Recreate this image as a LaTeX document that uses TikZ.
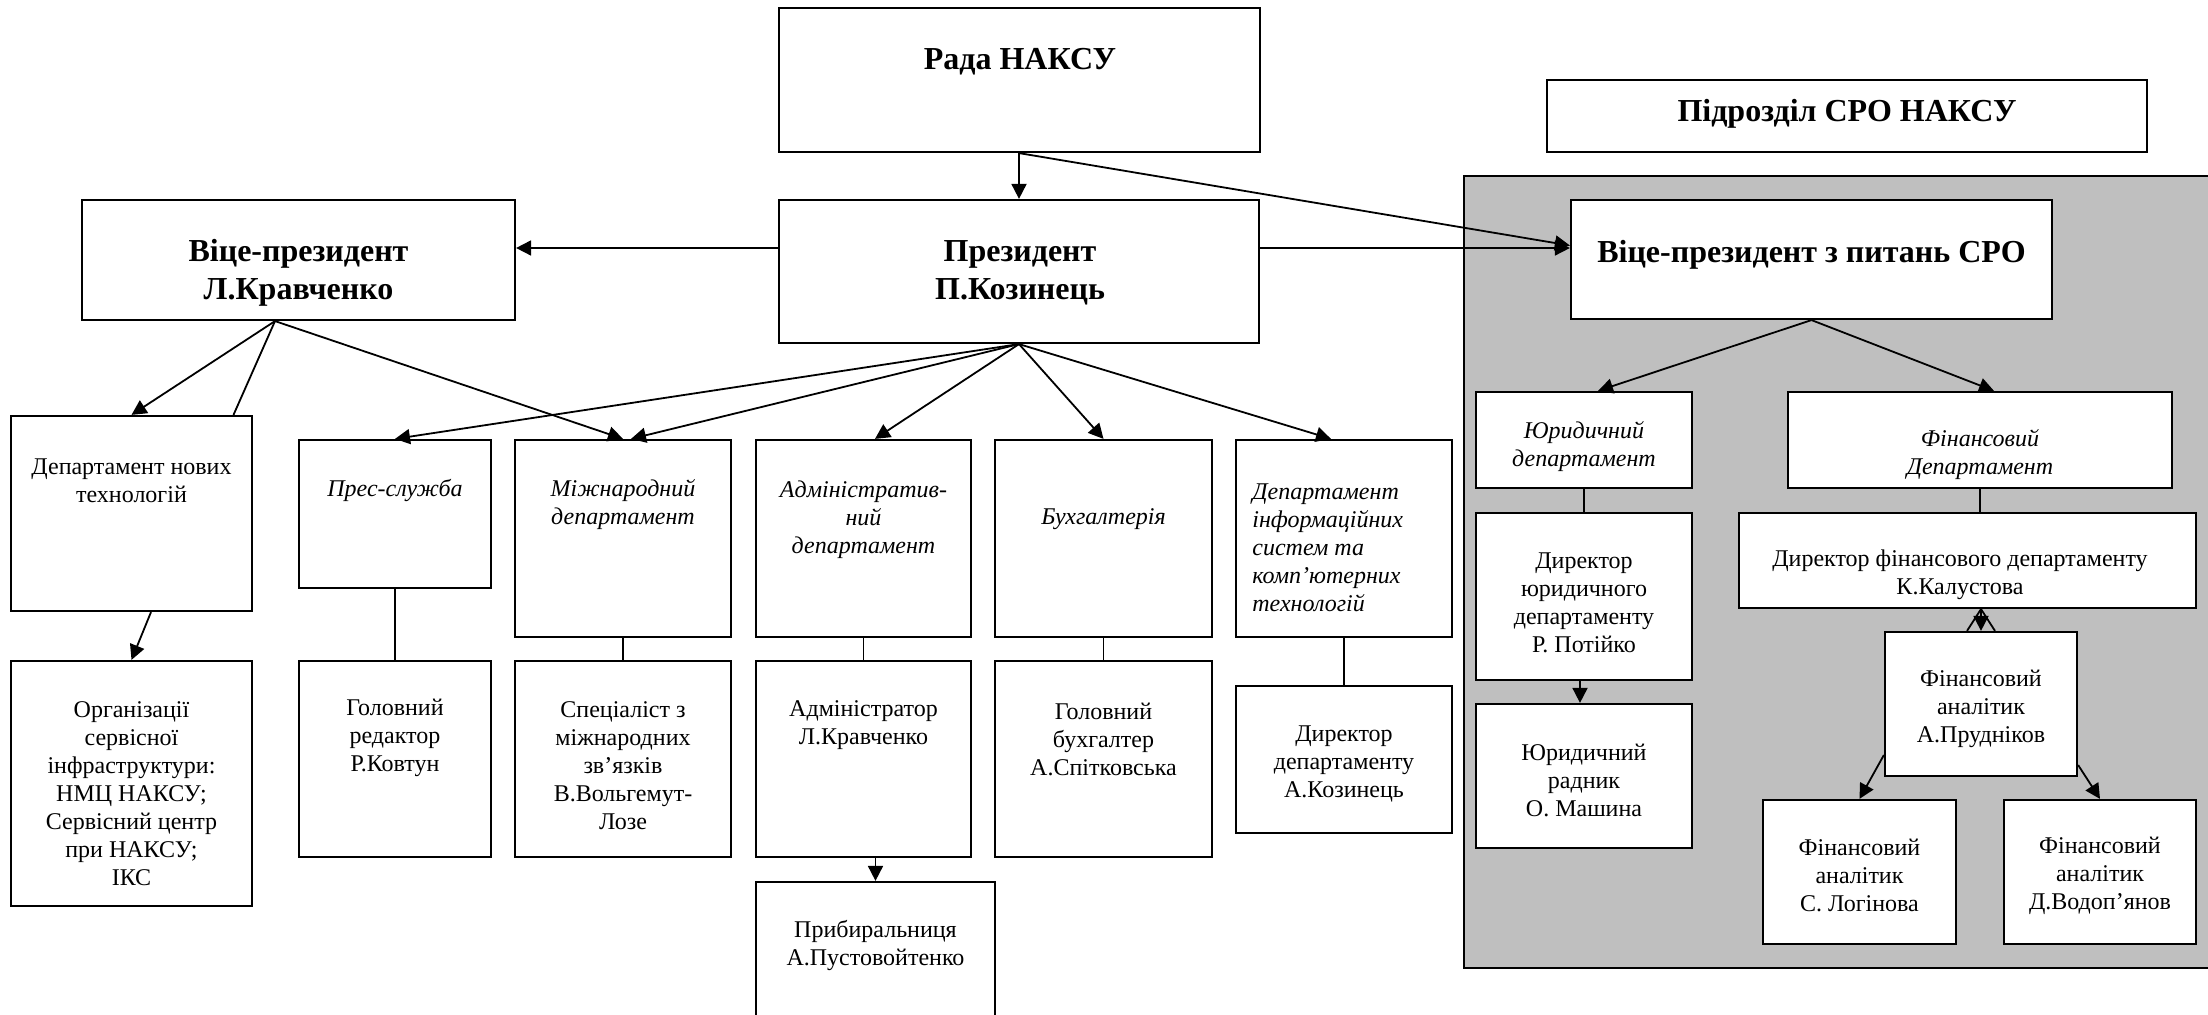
\documentclass[tikz,border=0pt]{standalone}
\usepackage{fontspec}
\setmainfont{Liberation Serif}
\usetikzlibrary{arrows.meta}

\tikzset{
  unit/.style={draw, line width=1.1pt, fill=white, inner sep=0pt},
  txt/.style={align=center, inner sep=0pt, font=\fontsize{12}{14}\selectfont},
  dept/.style={txt, font=\fontsize{12}{14}\selectfont\itshape},
  head/.style={align=center, inner sep=0pt, font=\fontsize{16}{19}\selectfont\bfseries},
  arr/.style={line width=0.9pt, -{Triangle[length=7.5pt,width=7.5pt]}},
  link/.style={line width=0.9pt},
}

\begin{document}
\begin{tikzpicture}[x=0.5pt,y=-0.5pt]
\useasboundingbox (0,0) rectangle (2208,1015);

% grey part of the SRO unit
\draw[line width=1.1pt, fill=black!25] (1464,176) rectangle (2240,968);

% top
\node[unit, minimum width=240.5pt, minimum height=72pt] (rada) at (1019.5,80) {};
\node[head] (rada-t) at (1020,62) {Рада НАКСУ};
\node[unit, minimum width=300pt, minimum height=36pt] (sro) at (1847,116) {};
\node[head] (sro-t) at (1847,114) {Підрозділ СРО НАКСУ};

\node[unit, minimum width=216.5pt, minimum height=60pt] (vpk) at (298.5,260) {};
\node[head] (vpk-t) at (298.5,273) {Віце-президент\\Л.Кравченко};
\node[unit, minimum width=240pt, minimum height=71.5pt] (pres) at (1019,271.5) {};
\node[head] (pres-t) at (1020,273) {Президент\\П.Козинець};
\node[unit, minimum width=240.5pt, minimum height=59.5pt] (vps) at (1811.5,259.5) {};
\node[head] (vps-t) at (1811.5,255) {Віце-президент з питань СРО};

% departments
\node[unit, minimum width=120.5pt, minimum height=97.5pt] (dnt) at (131.5,513.5) {};
\node[txt] (dnt-t) at (131.5,481) {Департамент нових\\технологій};
\node[unit, minimum width=96pt, minimum height=74pt] (press) at (395,514) {};
\node[dept] (press-t) at (395,491) {Прес-служба};
\node[unit, minimum width=108pt, minimum height=98.5pt] (intl) at (623,538.5) {};
\node[dept] (intl-t) at (623,505) {Міжнародний\\департамент};
\node[unit, minimum width=107.5pt, minimum height=98.5pt] (adm) at (863.5,538.5) {};
\node[dept] (adm-t) at (863.5,519.5) {Адміністратив-\\ний\\департамент};
\node[unit, minimum width=108.5pt, minimum height=98.5pt] (buh) at (1103.5,538.5) {};
\node[dept] (buh-t) at (1103.5,519) {Бухгалтерія};
\node[unit, minimum width=108pt, minimum height=98.5pt] (info) at (1344,538.5) {};
\node[dept, align=left, anchor=west] (info-t) at (1252,547.5) {Департамент\\інформаційних\\систем та\\комп’ютерних\\технологій};

% staff
\node[unit, minimum width=120.5pt, minimum height=122.5pt] (orgs) at (131.5,783.5) {};
\node[txt] (orgs-t) at (131.5,794) {Організації\\сервісної\\інфраструктури:\\НМЦ НАКСУ;\\Сервісний центр\\при НАКСУ;\\ІКС};
\node[unit, minimum width=96pt, minimum height=98pt] (editor) at (395,759) {};
\node[txt] (editor-t) at (395,738) {Головний\\редактор\\Р.Ковтун};
\node[unit, minimum width=108pt, minimum height=98pt] (spec) at (623,759) {};
\node[txt] (spec-t) at (623,766) {Спеціаліст з\\міжнародних\\зв’язків\\В.Вольгемут-\\Лозе};
\node[unit, minimum width=107.5pt, minimum height=98pt] (admr) at (863.5,759) {};
\node[txt] (admr-t) at (863.5,725) {Адміністратор\\Л.Кравченко};
\node[unit, minimum width=108.5pt, minimum height=98pt] (chacc) at (1103.5,759) {};
\node[txt] (chacc-t) at (1103.5,739) {Головний\\бухгалтер\\А.Спітковська};
\node[unit, minimum width=108pt, minimum height=73.5pt] (dirinfo) at (1344,759.5) {};
\node[txt] (dirinfo-t) at (1344,763.5) {Директор\\департаменту\\А.Козинець};
\node[unit, minimum width=119.5pt, minimum height=74pt] (clean) at (875.5,956) {};
\node[txt] (clean-t) at (875.5,945) {Прибиральниця\\А.Пустовойтенко};

% SRO unit
\node[unit, minimum width=108pt, minimum height=48pt] (legal) at (1584,440) {};
\node[dept] (legal-t) at (1584,446.5) {Юридичний\\департамент};
\node[unit, minimum width=192pt, minimum height=48pt] (fin) at (1980,440) {};
\node[dept] (fin-t) at (1980,455) {Фінансовий\\Департамент};
\node[unit, minimum width=108pt, minimum height=83.5pt] (dirlegal) at (1584,596.5) {};
\node[txt] (dirlegal-t) at (1584,603) {Директор\\юридичного\\департаменту\\Р. Потійко};
\node[unit, minimum width=228.5pt, minimum height=47.5pt] (dirfin) at (1967.5,560.5) {};
\node[txt] (dirfin-t) at (1960,575) {Директор фінансового департаменту\\К.Калустова};
\node[unit, minimum width=108pt, minimum height=72pt] (adviser) at (1584,776) {};
\node[txt] (adviser-t) at (1584,780) {Юридичний\\радник\\О. Машина};
\node[unit, minimum width=96pt, minimum height=72pt] (prud) at (1981,704) {};
\node[txt] (prud-t) at (1981,709) {Фінансовий\\аналітик\\А.Прудніков};
\node[unit, minimum width=96.5pt, minimum height=72pt] (login) at (1859.5,872) {};
\node[txt] (login-t) at (1859.5,875.5) {Фінансовий\\аналітик\\С. Логінова};
\node[unit, minimum width=96pt, minimum height=72pt] (vodo) at (2100,872) {};
\node[txt] (vodo-t) at (2100,875.5) {Фінансовий\\аналітик\\Д.Водоп’янов};

% connectors
\draw[arr] (pres.north |- rada.south) -- (pres.north);
\draw[arr] (pres.north |- rada.south) -- ([yshift=7pt]vps.west);
\draw[arr] ([yshift=11.75pt]pres.west) -- ([yshift=6pt]vpk.east);
\draw[arr] ([yshift=11.75pt]pres.east) -- ([yshift=5.75pt]vps.west);

\draw[arr] ([xshift=-11.75pt]vpk.south) -- (dnt.north);
\draw[link] ([xshift=-11.75pt]vpk.south) -- ([xshift=51pt]dnt.north);
\draw[arr] ([xshift=-11.75pt]vpk.south) -- (intl.north);
\draw[arr] ([xshift=9.75pt]dnt.south) -- (orgs.north);

\draw[arr] (pres.south) -- (press.north);
\draw[arr] (pres.south) -- ([xshift=4pt]intl.north);
\draw[arr] (pres.south) -- ([xshift=5.75pt]adm.north);
\draw[arr] (pres.south) -- (buh.north);
\draw[arr] (pres.south) -- ([xshift=-6.5pt]info.north);

\draw[link] (press.south) -- (editor.north);
\draw[link] (intl.south) -- (spec.north);
\draw[link] (adm.south) -- (admr.north);
\draw[link] (buh.south) -- (chacc.north);
\draw[link] (info.south) -- (dirinfo.north);
\draw[arr] (clean.north |- admr.south) -- (clean.north);

\draw[arr] (vps.south) -- ([xshift=7pt]legal.north);
\draw[arr] (vps.south) -- ([xshift=7pt]fin.north);
\draw[link] (legal.south) -- (dirlegal.north);
\draw[link] (fin.south) -- (fin.south |- dirfin.north);
\draw[arr] ([xshift=-2pt]dirlegal.south) -- ([xshift=-2pt]adviser.north);

\draw[arr] (prud.north |- dirfin.south) -- (prud.north);
\draw[link] ([xshift=-7pt]prud.north) -- (prud.north |- dirfin.south) -- ([xshift=7pt]prud.north);
\draw[arr] ([yshift=-25.5pt]prud.west) -- (login.north);
\draw[arr] ([yshift=-30.5pt]prud.east) -- (vodo.north);

\end{tikzpicture}
\end{document}
